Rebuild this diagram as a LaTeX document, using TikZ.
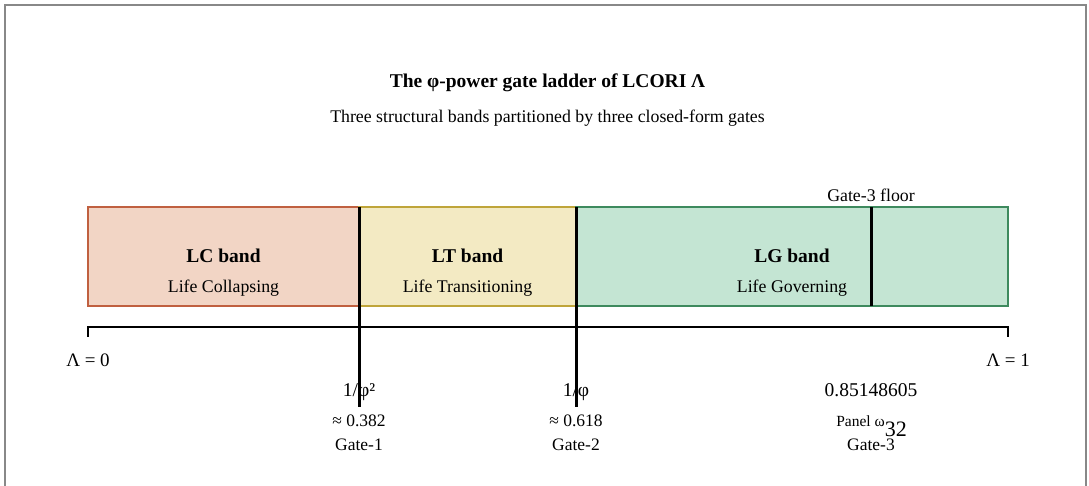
\documentclass[tikz,border=0pt]{standalone}
\usepackage{fontspec}
\setmainfont{Liberation Serif}
\begin{document}
\begin{tikzpicture}[x=1pt,y=1pt,
  lbl/.style={text=drawColor,anchor=base,inner sep=0pt,outer sep=0pt},
  bandbox/.style={line width=2pt,line join=miter},
  gateline/.style={draw=drawColor,line width=3pt,line cap=butt},
  axisline/.style={draw=drawColor,line width=2pt,line cap=butt,line join=miter}]
\definecolor{fillColor}{RGB}{255,255,255}
\path[use as bounding box,fill=fillColor] (0,0) rectangle (1089,486);
\begin{scope}
\path[clip] (0,0) rectangle (1089,486);
\definecolor{drawColor}{RGB}{136,136,136}

\path[draw=drawColor,line width=2pt] (5,-10) rectangle (1086,481);
\end{scope}
\begin{scope}
\definecolor{drawColor}{RGB}{0,0,0}

\node[lbl,font=\fontsize{19.5}{23}\bfseries] (title) at (547.5,398) {The φ-power gate ladder of LCORI Λ};

\node[lbl,font=\fontsize{17.8}{21}\selectfont] (subtitle) at (547.5,363) {Three structural bands partitioned by three closed-form gates};
\end{scope}
\begin{scope}
% bands
\definecolor{drawColor}{RGB}{192,96,64}
\definecolor{fillColor}{RGB}{242,213,197}

\path[bandbox,draw=drawColor,fill=fillColor] ( 88,180) rectangle (359,279);
\definecolor{drawColor}{RGB}{191,165,58}
\definecolor{fillColor}{RGB}{243,234,195}

\path[bandbox,draw=drawColor,fill=fillColor] (359,180) rectangle (576,279);
\definecolor{drawColor}{RGB}{62,138,94}
\definecolor{fillColor}{RGB}{196,229,211}

\path[bandbox,draw=drawColor,fill=fillColor] (576,180) rectangle (1008,279);
\end{scope}
\begin{scope}
\definecolor{drawColor}{RGB}{0,0,0}

\node[lbl,font=\fontsize{19.5}{23}\bfseries] (lcname) at (223.5,223) {LC band};

\node[lbl,font=\fontsize{17.8}{21}\selectfont] (lcsub) at (223.5,193) {Life Collapsing};

\node[lbl,font=\fontsize{19.5}{23}\bfseries] (ltname) at (467.5,223) {LT band};

\node[lbl,font=\fontsize{17.8}{21}\selectfont] (ltsub) at (467.5,193) {Life Transitioning};

\node[lbl,font=\fontsize{19.5}{23}\bfseries] (lgname) at (792,223) {LG band};

\node[lbl,font=\fontsize{17.8}{21}\selectfont] (lgsub) at (792,193) {Life Governing};

\node[lbl,font=\fontsize{17.8}{21}\selectfont] (floor) at (871,284) {Gate-3 floor};

\path[gateline] (871,180) -- (871,279);
\end{scope}
\begin{scope}
% Lambda axis
\definecolor{drawColor}{RGB}{0,0,0}

\path[axisline] ( 88,149) -- ( 88,159) -- (1008,159) -- (1008,149);

\node[lbl,font=\fontsize{19}{23}\selectfont] (lam0) at (  88,119) {Λ = 0};

\node[lbl,font=\fontsize{19}{23}\selectfont] (lam1) at (1008,119) {Λ = 1};
\end{scope}
\begin{scope}
\definecolor{drawColor}{RGB}{0,0,0}

\node[lbl,font=\fontsize{19.5}{23}\selectfont] (g1form) at (359,89) {1/φ²};

\node[lbl,font=\fontsize{17.5}{21}\selectfont] (g1val) at (359,59) {≈ 0.382};

\node[lbl,font=\fontsize{17.5}{21}\selectfont] (g1name) at (359,35) {Gate-1};

\node[lbl,font=\fontsize{19.5}{23}\selectfont] (g2form) at (576,89) {1/φ};

\node[lbl,font=\fontsize{17.5}{21}\selectfont] (g2val) at (576,59) {≈ 0.618};

\node[lbl,font=\fontsize{17.5}{21}\selectfont] (g2name) at (576,35) {Gate-2};

\node[lbl,font=\fontsize{19.5}{23}\selectfont] (g3form) at (871,89) {0.85148605};

\node[lbl,font=\fontsize{15.5}{18}\selectfont] (g3val) at (871.5,59) {Panel ω\raisebox{-10pt}{\fontsize{22}{26}\selectfont 32}};

\node[lbl,font=\fontsize{17.5}{21}\selectfont] (g3name) at (871,35) {Gate-3};

\path[gateline] (359,279) -- (359,79);

\path[gateline] (576,279) -- (576,79);
\end{scope}
\end{tikzpicture}
\end{document}
